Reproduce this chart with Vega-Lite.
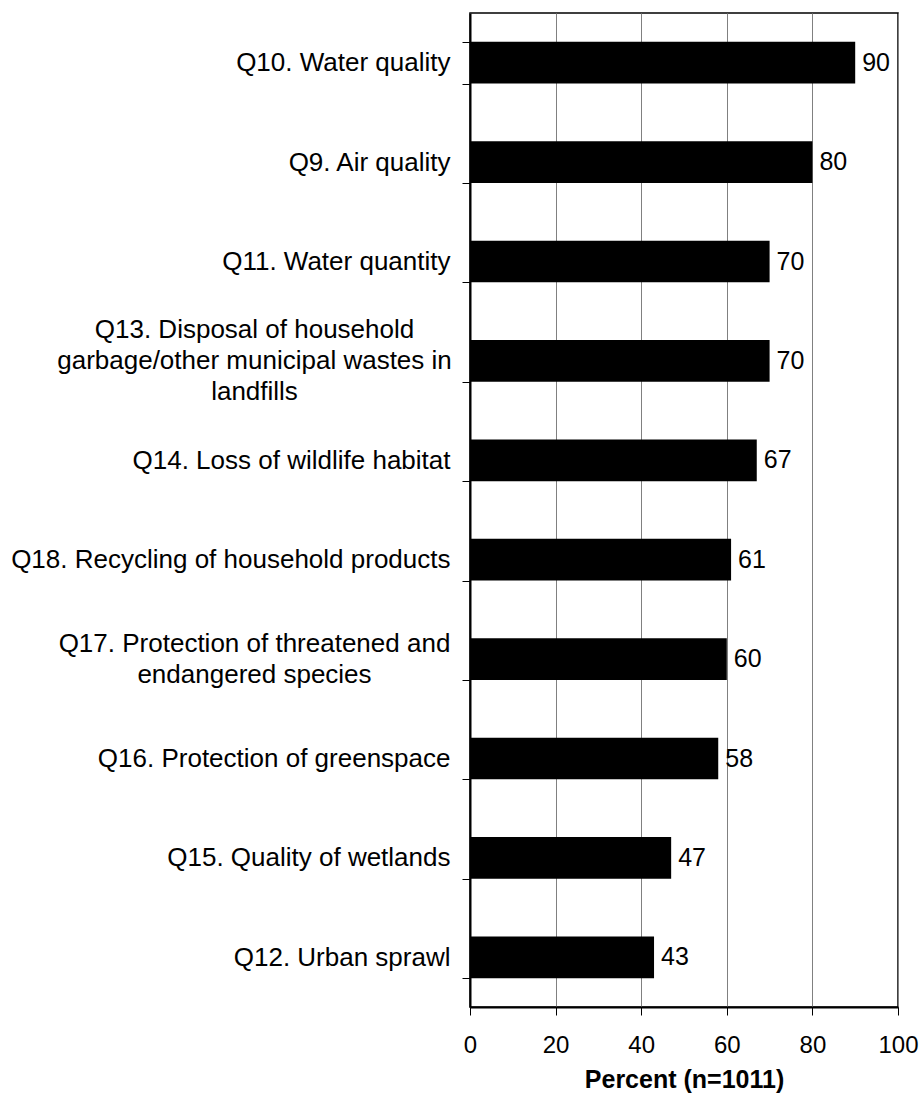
{
  "$schema": "https://vega.github.io/schema/vega-lite/v6.json",
  "width": 428,
  "height": 994,
  "autosize": {"type": "none"},
  "padding": {"left": 470, "top": 13, "right": 24, "bottom": 95},
  "background": "white",
  "config": {
    "font": "Liberation Sans",
    "view": {"stroke": "black", "strokeWidth": 1.5}
  },
  "data": {
    "values": [
      {"label": "Q10. Water quality", "value": 90},
      {"label": "Q9. Air quality", "value": 80},
      {"label": "Q11. Water quantity", "value": 70},
      {"label": "Q13. Disposal of household|garbage/other municipal wastes in|landfills", "value": 70},
      {"label": "Q14. Loss of wildlife habitat", "value": 67},
      {"label": "Q18. Recycling of household products", "value": 61},
      {"label": "Q17. Protection of threatened and|endangered species", "value": 60},
      {"label": "Q16. Protection of greenspace", "value": 58},
      {"label": "Q15. Quality of wetlands", "value": 47},
      {"label": "Q12. Urban sprawl", "value": 43}
    ]
  },
  "encoding": {
    "y": {
      "field": "label",
      "type": "nominal",
      "sort": null,
      "scale": {"paddingInner": 0.58, "paddingOuter": 0.29},
      "axis": {
        "title": null,
        "grid": false,
        "tickBand": "extent",
        "tickSize": 8,
        "tickColor": "black",
        "tickWidth": 1,
        "domainColor": "black",
        "domainWidth": 2,
        "labelFontSize": 26,
        "labelColor": "black",
        "labelPadding": {"condition": {"test": "isString(datum.value) && indexof(datum.value, '|') >= 0", "value": 208}, "value": 12},
        "labelOffset": {"condition": [
          {"test": "isString(datum.value) && indexof(datum.value, 'landfills') >= 0", "value": -31},
          {"test": "isString(datum.value) && indexof(datum.value, '|') >= 0", "value": -16}
        ], "value": 0},
        "labelLineHeight": 31,
        "labelLimit": 0,
        "labelExpr": "isString(datum.value) ? split(datum.value, '|') : ''",
        "labelAlign": {"condition": {"test": "isString(datum.value) && indexof(datum.value, '|') >= 0", "value": "center"}, "value": "right"}
      }
    },
    "x": {
      "field": "value",
      "type": "quantitative",
      "scale": {"domain": [0, 100], "nice": false},
      "axis": {
        "values": [0, 20, 40, 60, 80, 100],
        "title": "Percent (n=1011)",
        "grid": true,
        "gridColor": "#808080",
        "gridWidth": 1,
        "tickSize": 8,
        "tickColor": "black",
        "tickWidth": 1,
        "domainColor": "black",
        "domainWidth": 2,
        "labelFontSize": 24,
        "labelColor": "black",
        "labelPadding": 18,
        "labelFlush": false,
        "labelOverlap": false,
        "titleFontSize": 25,
        "titleFontWeight": "bold",
        "titleColor": "black",
        "titlePadding": 10
      }
    }
  },
  "layer": [
    {"mark": {"type": "bar", "color": "black"}},
    {
      "mark": {"type": "text", "align": "left", "baseline": "middle", "dx": 7, "fontSize": 25, "color": "black"},
      "encoding": {"text": {"field": "value", "type": "quantitative"}}
    }
  ]
}
